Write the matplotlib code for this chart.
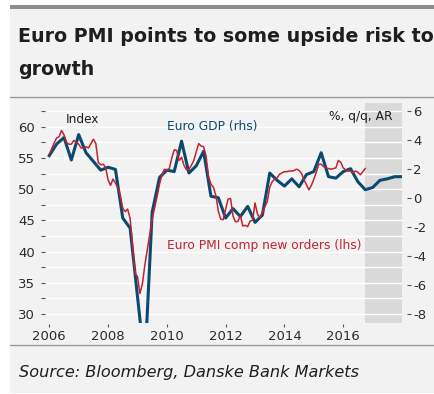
import numpy as np
import matplotlib
matplotlib.use("Agg")
from matplotlib import pyplot as plt
from matplotlib.patches import Rectangle
from matplotlib.lines import Line2D

# Euro PMI composite new orders (lhs), monthly, Jan 2006 - Oct 2016
pmi_new_orders = [
    55.6, 56.5, 57.4, 58.2, 58.4, 59.4, 58.7, 57.5, 57.2, 57.2, 57.8, 57.5,
    57.2, 56.6, 56.6, 56.8, 56.6, 57.3, 58.0, 57.3, 54.3, 53.9, 54.0, 53.5,
    51.5, 50.6, 51.6, 51.0, 50.2, 49.0, 46.9, 46.4, 46.8, 45.3, 41.0, 36.5,
    36.0, 33.3, 34.8, 37.8, 40.3, 42.8, 45.2, 47.0, 48.8, 50.8, 52.3, 53.2,
    53.0, 53.3, 55.0, 56.3, 56.2, 54.6, 55.1, 53.8, 53.1, 53.2, 53.8, 54.6,
    56.0, 57.3, 56.9, 56.8, 55.3, 52.0, 50.8, 50.3, 49.0, 46.5, 45.2, 45.1,
    46.8, 48.4, 48.5, 45.7, 44.8, 44.8, 45.8, 44.1, 44.2, 44.0, 44.9, 45.0,
    47.8, 46.0, 45.4, 46.3, 47.2, 48.0, 50.3, 51.2, 51.6, 51.8, 52.4, 52.6,
    52.8, 52.8, 52.9, 52.9, 53.0, 53.2, 53.0, 52.5, 51.5, 50.7, 49.9, 50.6,
    51.6, 52.7, 54.0, 54.0, 53.6, 53.4, 53.3, 53.2, 53.3, 53.4, 54.6, 54.3,
    53.4, 53.1, 52.9, 52.9, 52.6, 52.9, 52.7, 52.3, 52.8, 53.3,
]
pmi_start = 2006.0

# Euro GDP % q/q AR (rhs), quarter ends Q4 2005 - Q4 2017 (forecast from Q4 2016)
gdp_qoq_ar = [
    2.9, 3.7, 4.15, 2.6, 4.35, 3.1, 2.5, 1.9, 2.1, 1.95, -1.4, -2.1,
    -6.8, -11.5, -1.0, 1.4, 1.9, 1.8, 3.9, 1.7, 2.2, 3.2, 0.1, 0.0,
    -1.4, -0.75, -1.3, -0.6, -1.7, -1.2, 1.7, 1.2, 0.8, 1.3, 0.75, 1.6,
    1.8, 3.1, 1.45, 1.35, 1.8, 2.0, 1.1, 0.55, 0.7, 1.2, 1.3, 1.45, 1.45,
]
gdp_start = 2006.0
forecast_start = 2016.75
forecast_end = 2018.0

year_ticks = [2006, 2008, 2010, 2012, 2014, 2016]
left_ticks = [30, 35, 40, 45, 50, 55, 60]
left_minor = [32.5, 37.5, 42.5, 47.5, 52.5, 57.5, 62.5]
right_ticks = [-8, -6, -4, -2, 0, 2, 4, 6]

red = '#c1232f'
blue = '#0b4a70'
bg = '#f2f2f2'
text_col = '#2b2b2b'

plt.rcParams['font.family'] = ['DejaVu Sans']
plt.rcParams['axes.unicode_minus'] = False

W, H = 434, 394
fig = plt.figure(figsize=(W / 100, H / 100), dpi=100)
fig.patch.set_facecolor('white')

# panel background, top bar and separators
fig.add_artist(Rectangle((10 / W, 1 - 393 / H), 424 / W, 384 / H, transform=fig.transFigure,
                         facecolor=bg, edgecolor='none', zorder=0))
fig.add_artist(Rectangle((10 / W, 1 - 9 / H), 424 / W, 4 / H, transform=fig.transFigure,
                         facecolor='#8c8c8c', edgecolor='none', zorder=0))
for yp in [97, 345]:
    fig.add_artist(Line2D([10 / W, 1], [1 - yp / H, 1 - yp / H], transform=fig.transFigure,
                          color='#9a9a9a', lw=1.0))

fig.text(18 / W, 1 - 41.7 / H, "Euro PMI points to some upside risk to", fontsize=13.7,
         fontweight='bold', color='#1e1e1e', va='baseline')
fig.text(18 / W, 1 - 75 / H, "growth", fontsize=13.7, fontweight='bold', color='#1e1e1e',
         va='baseline')
fig.text(19 / W, 1 - 377.3 / H, "Source: Bloomberg, Danske Bank Markets", fontsize=11.6,
         style='italic', color='#1e1e1e', va='baseline')

ax1 = fig.add_axes([46.5 / W, 1 - 323 / H, 355.5 / W, 220 / H])
ax1.set_facecolor(bg)
ax1.set_xlim(2005.905, 2018.0)
ax1.set_ylim(28.56, 63.8)
ax1.axvspan(forecast_start, forecast_end, color='#d9d9d9', lw=0, zorder=0.1)

ax1.set_yticks(left_ticks)
ax1.set_yticks(left_minor, minor=True)
ax1.set_xticks(year_ticks)
ax1.set_xticklabels([str(y) for y in year_ticks])
ax1.yaxis.grid(True, which='both', color='white', lw=1.0)
ax1.xaxis.grid(False)
for s in ax1.spines.values():
    s.set_visible(False)
ax1.spines['left'].set_position(('outward', 1.1))
ax1.spines['bottom'].set_position(('outward', 0.7))
ax1.tick_params(axis='y', which='both', direction='out', length=3, width=0.8, color='#555555',
                pad=4, labelsize=9.5, labelcolor=text_col)
ax1.tick_params(axis='x', direction='out', length=2.2, width=0.8, color='#555555', pad=2.2,
                labelsize=9.5, labelcolor=text_col)

ax2 = ax1.twinx()
ax2.set_ylim(-8.64, 6.53)
ax2.set_yticks(right_ticks)
for s in ax2.spines.values():
    s.set_visible(False)
ax2.spines['right'].set_position(('outward', 3.4))
ax2.tick_params(axis='y', direction='out', length=3, width=0.8, color='#555555', pad=1.7,
                labelsize=9.5, labelcolor=text_col)

gdp_x = gdp_start + np.arange(len(gdp_qoq_ar)) / 4
pmi_x = pmi_start + np.arange(len(pmi_new_orders)) / 12
ax2.plot(gdp_x, gdp_qoq_ar, color=blue, lw=2.2, zorder=2, solid_joinstyle='round')
ax2.plot(pmi_x, pmi_new_orders, color=red, lw=1.1, zorder=3, transform=ax1.transData)
ax1.set_xlim(2005.905, 2018.0)

ax1.text(2006.56, 61.23, "Index", fontsize=8.7, color='#1e1e1e', va='center', ha='left')
ax1.text(2009.99, 60.0, "Euro GDP (rhs)", fontsize=8.8, color=blue, va='center', ha='left')
ax1.text(2009.99, 40.94, "Euro PMI comp new orders (lhs)", fontsize=8.8, color=red,
         va='center', ha='left')
ax1.text(2015.51, 61.7, "%, q/q, AR", fontsize=8.8, color='#1e1e1e', va='center', ha='left')

fig.savefig("out.png", dpi=100)
